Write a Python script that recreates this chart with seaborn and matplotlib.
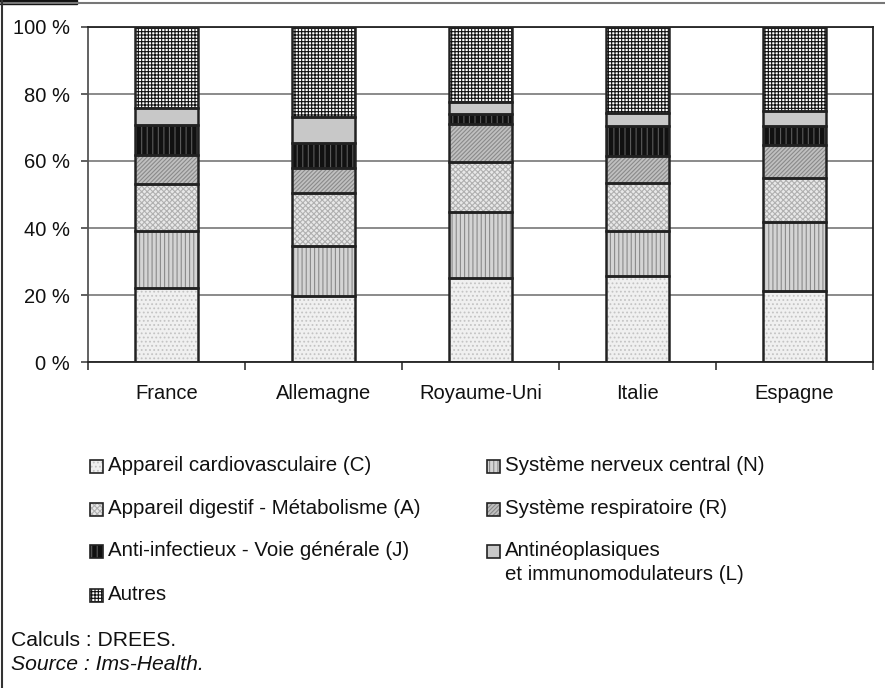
import numpy as np
import matplotlib.pyplot as plt
import matplotlib.patches as mpatches
from matplotlib.lines import Line2D
from matplotlib.ticker import FixedLocator
import seaborn as sns

sns.set_theme(style="white")
plt.rcParams["font.family"] = ["Liberation Sans", "DejaVu Sans"]
plt.rcParams["hatch.linewidth"] = 0.8

# ─────────────────────────────────────────────
# Data (share of sales, %)
# ─────────────────────────────────────────────
countries = ["France", "Allemagne", "Royaume-Uni", "Italie", "Espagne"]
cardio    = [22.2, 19.7, 25.0, 25.8, 21.3]
nerveux   = [16.9, 15.0, 19.9, 13.4, 20.6]
digestif  = [14.0, 15.7, 14.7, 14.1, 12.9]
respir    = [8.7, 7.4, 11.4, 8.3, 10.0]
infect    = [8.9, 7.7, 3.0, 8.8, 5.6]
neoplas   = [5.0, 7.7, 3.5, 3.8, 4.6]
autres    = [24.3, 26.8, 22.5, 25.8, 25.0]

labels = [
    "Appareil cardiovasculaire (C)",
    "Système nerveux central (N)",
    "Appareil digestif - Métabolisme (A)",
    "Système respiratoire (R)",
    "Anti-infectieux - Voie générale (J)",
    "Antinéoplasiques\net immunomodulateurs (L)",
    "Autres",
]
series = [cardio, nerveux, digestif, respir, infect, neoplas, autres]

# face colour, hatch, hatch colour
styles = [
    ("#f0f0f0", "....", "#c4c4c4"),
    ("#d4d4d4", "||||", "#8a8a8a"),
    ("#e8e8e8", "xxxxxx", "#b0b0b0"),
    ("#c0c0c0", "////////", "#8a8a8a"),
    ("#111111", "|||", "#5a5a5a"),
    ("#c8c8c8", "", "#c8c8c8"),
    ("#ffffff", "+++++", "#111111"),
]
EDGE = "#222222"
FS = 14.5
FS_LEG = 14.8

W, H = 885, 688
fig = plt.figure(figsize=(W / 100, H / 100), dpi=100)
ax = fig.add_axes([88 / W, 1 - 362 / H, (873 - 88) / W, (362 - 27) / H])

bottom = np.zeros(len(countries))
for vals, (face, hatch, hcol) in zip(series, styles):
    sns.barplot(x=countries, y=vals, bottom=bottom, color=face, saturation=1,
                edgecolor=hcol, linewidth=0, hatch=hatch, width=0.4,
                errorbar=None, ax=ax, zorder=2)
    sns.barplot(x=countries, y=vals, bottom=bottom, color="none", saturation=1,
                edgecolor=EDGE, linewidth=1.8, facecolor="none",
                width=0.4, errorbar=None, ax=ax, zorder=3)
    bottom = bottom + np.array(vals)

# axes styling
ax.set_xlim(-0.5, len(countries) - 0.5)
ax.set_ylim(0, 100)
ax.set_xlabel("")
ax.set_ylabel("")
ax.set_yticks(range(0, 101, 20))
ax.set_yticklabels([f"{v} %" for v in range(0, 101, 20)])
ax.yaxis.grid(True, color="#777777", linewidth=1.2)
ax.xaxis.grid(False)
ax.set_axisbelow(True)
ax.tick_params(axis="y", which="major", left=True, length=5, width=1.2,
               color="#444444", pad=8, labelsize=FS, labelcolor="#111111")
ax.xaxis.set_minor_locator(FixedLocator(np.arange(-0.5, len(countries), 1.0)))
ax.tick_params(axis="x", which="major", bottom=True, length=0, pad=16,
               labelsize=FS, labelcolor="#111111")
ax.tick_params(axis="x", which="minor", bottom=True, length=6, width=1.2,
               color="#333333")
for side, col in [("left", "#555555"), ("bottom", "#222222"),
                  ("right", "#222222"), ("top", "#222222")]:
    ax.spines[side].set_visible(True)
    ax.spines[side].set_color(col)
    ax.spines[side].set_linewidth(1.3)

# legend (manual, two columns) – baselines in pixels from top
rows = [471, 514, 556, 600]
col_x = [90, 487]
pos = [(col_x[0], rows[0]), (col_x[1], rows[0]), (col_x[0], rows[1]),
       (col_x[1], rows[1]), (col_x[0], rows[2]), (col_x[1], rows[2]),
       (col_x[0], rows[3])]
sq = 13
line_h = 24.5
for (px, base), lab, (face, hatch, hcol) in zip(pos, labels, styles):
    cy = base - 5
    xy = (px / W, 1 - (cy + sq / 2) / H)
    fig.add_artist(mpatches.Rectangle(xy, sq / W, sq / H, transform=fig.transFigure,
                                      facecolor=face, edgecolor=hcol, hatch=hatch,
                                      linewidth=0))
    fig.add_artist(mpatches.Rectangle(xy, sq / W, sq / H, transform=fig.transFigure,
                                      facecolor="none", edgecolor=EDGE, linewidth=1.2))
    for i, part in enumerate(lab.split("\n")):
        fig.text((px + sq + 5) / W, 1 - (base + i * line_h) / H, part,
                 fontsize=FS_LEG, color="#111111", va="baseline", ha="left")

# source notes
fig.text(11 / W, 1 - 641 / H, "Calculs : DREES.", fontsize=15.2, va="center",
         color="#111111")
fig.text(11 / W, 1 - 664 / H, "Source : Ims-Health.", fontsize=15.2, va="center",
         style="italic", color="#111111")

# frame
fig.add_artist(Line2D([0, 1], [1 - 3 / H, 1 - 3 / H], transform=fig.transFigure,
                      color="#777777", linewidth=1.5))
fig.add_artist(mpatches.Rectangle((0, 1 - 4 / H), 77 / W, 4 / H,
                                  transform=fig.transFigure, color="#111111"))
fig.add_artist(Line2D([1.5 / W, 1.5 / W], [0, 1], transform=fig.transFigure,
                      color="#333333", linewidth=1.5))

fig.savefig("out.png", dpi=100)
